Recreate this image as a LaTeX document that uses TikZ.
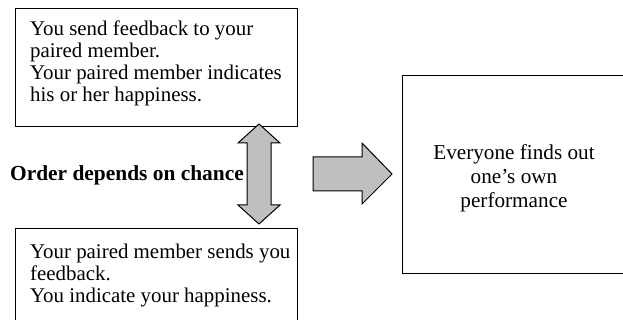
\documentclass[tikz,border=0pt]{standalone}
\usepackage{fontspec}
\setmainfont{Liberation Serif}

\begin{document}
\begin{tikzpicture}[x=1pt,y=-1pt]
    \tikzstyle{every node}=[inner sep=0pt,font=\fontsize{20.9}{21.8}\selectfont];
    \tikzstyle{box}=[draw,line width=1.2pt,shape=rectangle,anchor=north west];
    \tikzstyle{blockarrow}=[draw,line width=1pt,fill=black!25,line join=miter];
    \useasboundingbox (0,0) rectangle (623,320);
    \clip (0,0) rectangle (623,320);

    % the three boxes
    \node[box,minimum width=282,minimum height=118] (send) at (15,8) {};
    \node[box,minimum width=282,minimum height=96] (recv) at (15,228) {};
    \node[box,minimum width=224,minimum height=198] (perf) at (402,75) {};

    \node[anchor=north west,align=left] (sendtext) at (30,21)
        {You send feedback to your\\paired member.\\Your paired member indicates\\his or her happiness.};
    \node[anchor=north west,align=left] (recvtext) at (30,244)
        {Your paired member sends you\\feedback.\\You indicate your happiness.};
    \node[align=center,font=\fontsize{21.2}{24}\selectfont] (perftext) at (514,178)
        {Everyone finds out\\one's own\\performance};

    % order arrow between the two left boxes
    \coordinate (otop) at (259,124);
    \coordinate (obot) at (259,224);
    \draw[blockarrow] (otop) -- ++(21,19) -- ++(-9,0) -- ++(0,62) -- ++(9,0)
        -- (obot) -- ++(-21,-19) -- ++(9,0) -- ++(0,-62) -- ++(-9,0) -- cycle;
    \node[anchor=east,font=\fontsize{21.4}{21.8}\selectfont\bfseries] (orderlabel) at (244,175) {Order depends on chance};

    % arrow to the right box
    \coordinate (ntail) at (313,174);
    \coordinate (ntip) at (392,174);
    \draw[blockarrow] (ntail) -- ++(0,-17) -- ++(49,0) -- ++(0,-14) -- (ntip)
        -- ++(-30,30) -- ++(0,-13) -- ++(-49,0) -- cycle;
\end{tikzpicture}
\end{document}
